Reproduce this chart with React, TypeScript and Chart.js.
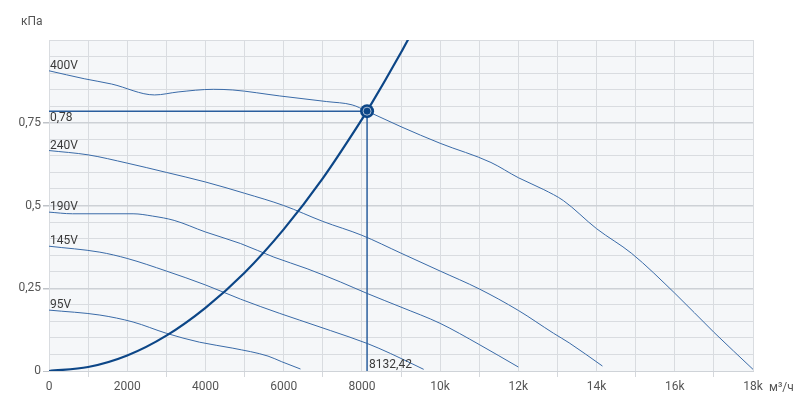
import React, { useEffect, useRef } from 'react';
import { Chart, registerables } from 'chart.js';

Chart.register(...registerables);

// ---- data ----
const flow400 = [0, 900, 1600, 2700, 3300, 4200, 4700, 5900, 7100, 7750, 8132.42, 9000, 10000, 11300, 12000, 12650, 13150, 14000, 14900, 16000, 17000, 18000];
const p400 = [0.907, 0.883, 0.867, 0.834, 0.843, 0.851, 0.849, 0.831, 0.814, 0.804, 0.785, 0.738, 0.688, 0.63, 0.584, 0.548, 0.515, 0.43, 0.355, 0.235, 0.117, 0.005];

const flow240 = [0, 1000, 2000, 3000, 4000, 5000, 6000, 7000, 8000, 9000, 10000, 11000, 12000, 12900, 13300, 14150];
const p240 = [0.666, 0.653, 0.628, 0.6, 0.571, 0.537, 0.5, 0.452, 0.41, 0.356, 0.302, 0.248, 0.183, 0.114, 0.085, 0.015];

const flow190 = [0, 600, 2150, 2650, 3200, 4000, 4900, 5750, 6600, 7450, 8140, 9000, 10000, 11000, 12000];
const p190 = [0.48, 0.475, 0.475, 0.468, 0.455, 0.42, 0.385, 0.344, 0.309, 0.269, 0.234, 0.193, 0.144, 0.08, 0.012];

const flow145 = [0, 1300, 2000, 3000, 4000, 4900, 5900, 6400, 7200, 8140, 8730, 9580];
const p145 = [0.377, 0.359, 0.34, 0.302, 0.26, 0.217, 0.174, 0.154, 0.122, 0.083, 0.053, 0.005];

const flow95 = [0, 1300, 2150, 3000, 3850, 4700, 5600, 5950, 6430];
const p95 = [0.184, 0.169, 0.148, 0.114, 0.087, 0.069, 0.045, 0.028, 0.006];

const flowSys = [0, 1000, 2000, 3000, 4000, 5000, 6000, 7000, 8000, 8132.42, 9000, 9400];
const pSys = [0, 0.012, 0.047, 0.107, 0.191, 0.297, 0.428, 0.582, 0.76, 0.785, 0.962, 1.05];

const curveNames = ['400V', '240V', '190V', '145V', '95V'];
const workFlow = 8132.42;
const workPressure = 0.785;
const workFlowLabel = '8132,42';
const workPressureLabel = '0,78';
const xUnit = 'м³/ч';
const yUnit = 'кПа';

const xMin = 0;
const xMax = 18000;
const yMin = 0;
const yMax = 1.0;

const FONT = 'Roboto, "Open Sans", sans-serif';

const pts = (xs: number[], ys: number[]) => xs.map((x, i) => ({ x, y: ys[i] }));

const isMajorY = (v: number) => Math.abs(v / 0.25 - Math.round(v / 0.25)) < 1e-6;
const fmtY = (v: number) => {
  const r = Math.round(v * 100) / 100;
  return String(r).replace('.', ',');
};

export default function App() {
  const ref = useRef<HTMLCanvasElement | null>(null);

  useEffect(() => {
    if (!ref.current) return;
    const curveColor = '#3a6ba8';
    const sysColor = '#0c4687';

    const curves = [
      pts(flow400, p400),
      pts(flow240, p240),
      pts(flow190, p190),
      pts(flow145, p145),
      pts(flow95, p95),
    ];

    const decor = {
      id: 'decor',
      beforeDraw(chart: any) {
        const { ctx, chartArea: a } = chart;
        ctx.save();
        ctx.fillStyle = '#f5f7f9';
        ctx.fillRect(a.left, a.top, a.right - a.left, a.bottom - a.top);
        ctx.restore();
      },
      afterDraw(chart: any) {
        const { ctx, chartArea: a } = chart;
        const xs = chart.scales.x;
        const ys = chart.scales.y;
        ctx.save();
        ctx.font = `12px ${FONT}`;
        ctx.fillStyle = '#3a3a3a';
        ctx.textAlign = 'left';
        ctx.textBaseline = 'alphabetic';
        curves.forEach((c, i) => {
          ctx.fillText(curveNames[i], xs.getPixelForValue(c[0].x) + 1, ys.getPixelForValue(c[0].y) - 2);
        });
        ctx.fillText(workPressureLabel, xs.getPixelForValue(0) + 1, ys.getPixelForValue(workPressure) + 10);
        ctx.fillText(workFlowLabel, xs.getPixelForValue(workFlow) + 2, ys.getPixelForValue(0) - 3);
        ctx.fillStyle = '#555';
        ctx.fillText(yUnit, 21, 25);
        ctx.fillText(xUnit, a.right + 16, a.bottom + 20);
        ctx.restore();
      },
    };

    const chart = new Chart(ref.current, {
      type: 'line',
      data: {
        datasets: [
          {
            data: [{ x: workFlow, y: workPressure }],
            pointRadius: 4,
            pointBackgroundColor: sysColor,
            pointBorderColor: '#a9bdd6',
            pointBorderWidth: 1,
            showLine: false,
          } as any,
          {
            data: [{ x: workFlow, y: workPressure }],
            pointRadius: 7,
            pointBackgroundColor: sysColor,
            pointBorderColor: sysColor,
            pointBorderWidth: 0,
            showLine: false,
          } as any,
          {
            data: pts(flowSys, pSys),
            borderColor: sysColor,
            borderWidth: 2.2,
            pointRadius: 0,
            cubicInterpolationMode: 'monotone',
          } as any,
          {
            data: [{ x: 0, y: workPressure }, { x: workFlow, y: workPressure }],
            borderColor: '#2a5e9e',
            borderWidth: 1.5,
            pointRadius: 0,
          },
          {
            data: [{ x: workFlow, y: 0 }, { x: workFlow, y: workPressure }],
            borderColor: '#2a5e9e',
            borderWidth: 1.5,
            pointRadius: 0,
          },
          ...curves.map((c) => ({
            data: c,
            borderColor: curveColor,
            borderWidth: 1,
            pointRadius: 0,
            cubicInterpolationMode: 'monotone',
          } as any)),
        ],
      },
      options: {
        animation: false,
        responsive: true,
        maintainAspectRatio: false,
        layout: { padding: { top: 40, right: 53, left: 0, bottom: 0 } },
        plugins: {
          legend: { display: false },
          tooltip: { enabled: false },
        },
        scales: {
          x: {
            type: 'linear',
            min: xMin,
            max: xMax,
            afterFit: (s: any) => { s.height = 34; },
            ticks: {
              stepSize: 1000,
              autoSkip: false,
              maxRotation: 0,
              padding: 3,
              color: '#555',
              font: { family: FONT, size: 12 },
              callback: (v: any) => {
                const n = Number(v);
                if (n % 2000 !== 0) return '';
                return n >= 10000 ? `${n / 1000}k` : String(n);
              },
            },
            grid: {
              color: '#d9dce0',
              lineWidth: 1,
              tickLength: 6,
              tickColor: (c: any) => (c.tick && c.tick.value % 2000 === 1000 ? '#d5d8dc' : 'rgba(0,0,0,0)'),
            },
            border: { color: '#cfd3d8', width: 1 },
          },
          y: {
            type: 'linear',
            min: yMin,
            max: yMax,
            afterFit: (s: any) => { s.width = 49; },
            ticks: {
              stepSize: 0.05,
              autoSkip: false,
              padding: 2,
              color: '#555',
              font: { family: FONT, size: 12 },
              callback: (v: any) => (isMajorY(Number(v)) && Number(v) < 0.999 ? fmtY(Number(v)) : ''),
            },
            grid: {
              color: (c: any) => (c.tick && isMajorY(c.tick.value) && c.tick.value > 0 && c.tick.value < 0.999 ? '#cdd1d6' : '#d9dce0'),
              lineWidth: (c: any) => (c.tick && isMajorY(c.tick.value) && c.tick.value > 0 && c.tick.value < 0.999 ? 1.5 : 1),
              tickLength: 6,
              tickColor: (c: any) => (c.tick && isMajorY(c.tick.value) && c.tick.value < 0.999 ? '#bfc3c8' : 'rgba(0,0,0,0)'),
            },
            border: { color: '#d9dce0', width: 1 },
          },
        },
      },
      plugins: [decor],
    });
    return () => chart.destroy();
  }, []);

  return (
    <div style={{ position: 'fixed', left: 0, top: 0, width: 806, height: 405, background: '#fff' }}>
      <canvas ref={ref} />
    </div>
  );
}
